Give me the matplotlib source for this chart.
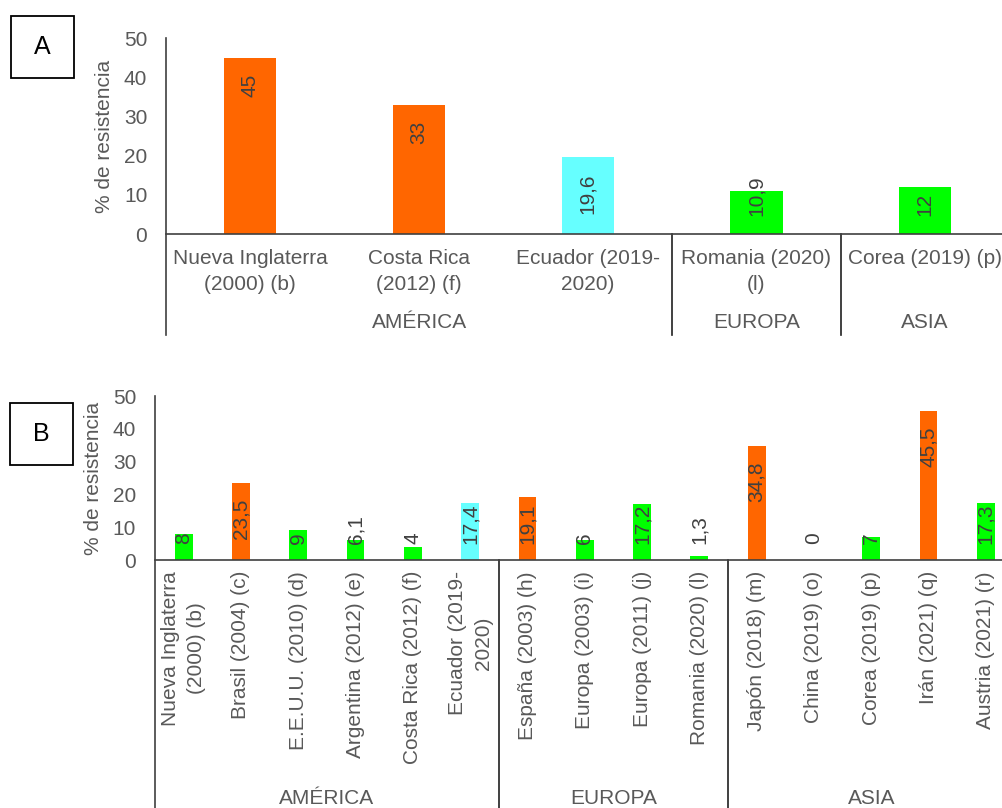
import matplotlib.pyplot as plt
from matplotlib.patches import Rectangle
from matplotlib.transforms import blended_transform_factory

plt.rcParams['font.family'] = ['Liberation Sans', 'DejaVu Sans']

# panel A data
cats_a = ["Nueva Inglaterra\n(2000) (b)", "Costa Rica\n(2012) (f)", "Ecuador (2019-\n2020)",
          "Romania (2020)\n(l)", "Corea (2019) (p)"]
vals_a = [45, 33, 19.6, 10.9, 12]
kind_a = ["o", "o", "c", "g", "g"]
groups_a = [("AMÉRICA", 3), ("EUROPA", 1), ("ASIA", 1)]

# panel B data
cats_b = ["Nueva Inglaterra\n(2000) (b)", "Brasil (2004) (c)", "E.E.U.U. (2010) (d)",
          "Argentina (2012) (e)", "Costa Rica (2012) (f)", "Ecuador (2019-\n2020)",
          "España (2003) (h)", "Europa (2003) (i)", "Europa (2011) (j)", "Romania (2020) (l)",
          "Japón (2018) (m)", "China (2019) (o)", "Corea (2019) (p)", "Irán (2021) (q)",
          "Austria (2021) (r)"]
vals_b = [8, 23.5, 9, 6.1, 4, 17.4, 19.1, 6, 17.2, 1.3, 34.8, 0, 7, 45.5, 17.3]
kind_b = ["g", "o", "g", "g", "g", "c", "o", "g", "g", "g", "o", "g", "g", "o", "g"]
groups_b = [("AMÉRICA", 6), ("EUROPA", 4), ("ASIA", 5)]

palette = {"o": "#FF6600", "c": "#66FFFF", "g": "#00FF00"}
GREY = "#595959"
DARK = "#404040"
FS = 15

W, H = 1002, 808
fig = plt.figure(figsize=(W / 100, H / 100), dpi=100)


def px_rect(left, top, width, height):
    return [left / W, 1 - (top + height) / H, width / W, height / H]


def fmt(v):
    return f"{v:g}".replace(".", ",")


def draw_panel(ax, cats, vals, kinds, groups, rotate, down_px, group_px, top_gap, floor_gap):
    n = len(cats)
    x = list(range(n))
    ax.bar(x, vals, width=0.31, color=[palette[k] for k in kinds])
    ax.set_xlim(-0.5, n - 0.5)
    ax.set_ylim(0, 50)
    ax.set_yticks(range(0, 51, 10))
    ax.set_xticks(x)
    if rotate:
        ax.set_xticklabels(cats, rotation=90, ha="center", va="top", multialignment="center",
                           linespacing=1.45)
        ax.tick_params(axis="x", length=0, pad=8)
    else:
        ax.set_xticklabels(cats, ha="center", va="top", multialignment="center",
                           linespacing=1.45)
        ax.tick_params(axis="x", length=0, pad=11)
    ax.tick_params(axis="y", length=0, pad=13.5)
    ax.tick_params(labelsize=FS, labelcolor=GREY)
    for s in ["top", "right", "left"]:
        ax.spines[s].set_visible(False)
    ax.spines["bottom"].set_color(DARK)
    ax.spines["bottom"].set_linewidth(1.2)
    ax.set_ylabel("% de resistencia", fontsize=FS, color=GREY)

    # axis line and group separators running below the baseline
    h_px = ax.get_position().height * H
    ext = -down_px / h_px
    ax.axvline(-0.5, ymin=ext, ymax=1, color=DARK, lw=1.2, clip_on=False)
    trans = blended_transform_factory(ax.transData, ax.transAxes)
    start = 0
    for name, size in groups:
        end = start + size
        if start > 0:
            ax.axvline(start - 0.5, ymin=ext, ymax=0, color="#202020", lw=1.2, clip_on=False)
        ax.annotate(name, ((start + end - 1) / 2, 0), xycoords=trans,
                    xytext=(0, -group_px), textcoords="offset pixels",
                    ha="center", va="center", fontsize=FS, color=GREY, annotation_clip=False)
        start = end

    # value labels: inside the bar end, pushed up when the bar is too short
    r = fig.canvas.get_renderer()
    for xi, v in zip(x, vals):
        t = ax.annotate(fmt(v), (xi, v), xytext=(0, -top_gap), textcoords="offset pixels",
                        rotation=90, ha="center", va="top", fontsize=FS, color=DARK)
        bb = t.get_window_extent(r)
        base = ax.transData.transform((xi, 0))[1]
        if bb.y0 < base + floor_gap:
            t.remove()
            ax.annotate(fmt(v), (xi, 0), xytext=(0, floor_gap), textcoords="offset pixels",
                        rotation=90, ha="center", va="bottom", fontsize=FS, color=DARK)


ax_a = fig.add_axes(px_rect(166, 38, 5 * 168.7, 196))
draw_panel(ax_a, cats_a, vals_a, kind_a, groups_a, False, 101, 88, 16, 18)
ax_a.yaxis.set_label_coords((114 - 166) / (5 * 168.7), 0.5)

ax_b = fig.add_axes(px_rect(155, 396, 15 * 57.3, 164))
draw_panel(ax_b, cats_b, vals_b, kind_b, groups_b, True, 260, 239, 16, 16)
ax_b.yaxis.set_label_coords((103 - 155) / (15 * 57.3), 0.5)

# panel letters in boxes
for letter, left, top in [("A", 11, 16), ("B", 10, 403)]:
    rect = px_rect(left, top, 63, 62)
    fig.add_artist(Rectangle((rect[0], rect[1]), rect[2], rect[3], transform=fig.transFigure,
                             fill=False, edgecolor="black", lw=1.3))
    fig.text(rect[0] + rect[2] / 2, rect[1] + rect[3] / 2, letter, ha="center", va="center",
             fontsize=18, color="black")

fig.savefig("out.png", dpi=100)
